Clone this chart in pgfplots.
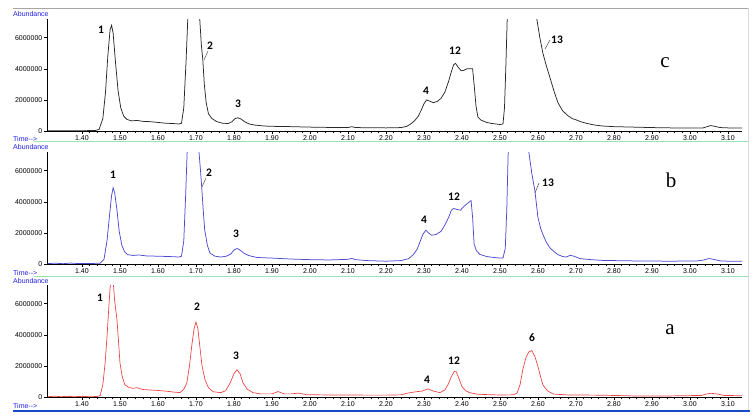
\documentclass[border=0pt]{standalone}
\usepackage{pgfplots}
\pgfplotsset{compat=1.18}
\usepackage{fontspec}
\setmainfont{Liberation Sans}
\newfontfamily\peakfont{Carlito}
\newfontfamily\letterfont{Liberation Serif}
\definecolor{trc}{RGB}{40,40,40}
\definecolor{trb}{RGB}{75,75,210}
\definecolor{tra}{RGB}{235,70,70}
\definecolor{hpblue}{RGB}{30,30,230}
\definecolor{sepgreen}{RGB}{150,228,180}
\definecolor{botblue}{RGB}{25,75,200}

\pgfplotstableread{
x y
1.310 0.02
1.350 0.02
1.400 0.02
1.435 0.03
1.445 0.1
1.455 0.8
1.462 2.5
1.468 4.8
1.474 6.5
1.478 6.8
1.482 6.3
1.488 4.5
1.495 2.6
1.502 1.5
1.510 0.95
1.518 0.75
1.530 0.65
1.545 0.68
1.560 0.62
1.580 0.60
1.600 0.55
1.620 0.50
1.640 0.48
1.655 0.45
1.662 0.5
1.668 1.5
1.674 4.5
1.679 7.5
1.685 14
1.695 16
1.705 10
1.710 7.2
1.714 5.6
1.718 4.6
1.722 3.0
1.727 1.8
1.733 1.1
1.742 0.8
1.755 0.6
1.770 0.5
1.785 0.48
1.795 0.6
1.803 0.8
1.810 0.85
1.818 0.78
1.828 0.6
1.840 0.45
1.855 0.38
1.880 0.32
1.900 0.3
1.950 0.28
2.000 0.25
2.050 0.23
2.100 0.22
2.110 0.28
2.120 0.22
2.200 0.2
2.240 0.22
2.255 0.3
2.265 0.45
2.275 0.65
2.285 0.95
2.293 1.35
2.300 1.75
2.307 2.0
2.315 1.92
2.325 1.82
2.335 1.9
2.345 2.1
2.355 2.5
2.365 3.2
2.372 3.8
2.378 4.25
2.383 4.35
2.390 4.1
2.398 3.87
2.405 3.9
2.413 4.0
2.428 4.0
2.432 3.0
2.437 1.6
2.442 0.9
2.450 0.7
2.465 0.55
2.480 0.48
2.500 0.42
2.508 0.45
2.512 1.5
2.516 4.5
2.520 8
2.540 18
2.560 20
2.590 9.0
2.597 7.2
2.605 6.0
2.613 5.0
2.622 4.2
2.632 3.4
2.643 2.5
2.653 1.8
2.665 1.3
2.678 1.0
2.690 0.8
2.700 0.72
2.712 0.6
2.730 0.48
2.750 0.38
2.770 0.32
2.800 0.28
2.850 0.25
2.900 0.22
2.950 0.2
3.000 0.2
3.035 0.2
3.045 0.28
3.055 0.35
3.065 0.3
3.080 0.22
3.100 0.2
3.140 0.2
}\tracec

\pgfplotstableread{
x y
1.310 0.03
1.330 0.05
1.350 0.02
1.370 0.06
1.390 0.03
1.420 0.03
1.448 0.05
1.458 0.3
1.466 1.5
1.472 3.0
1.478 4.4
1.482 4.9
1.486 4.6
1.492 3.5
1.498 2.1
1.505 1.2
1.512 0.8
1.520 0.6
1.535 0.55
1.550 0.58
1.570 0.52
1.600 0.5
1.630 0.48
1.655 0.45
1.662 0.5
1.668 1.5
1.673 4.5
1.678 8
1.690 14
1.700 12
1.708 7.2
1.712 6.0
1.715 5.0
1.719 3.5
1.723 2.2
1.730 1.2
1.737 0.7
1.750 0.5
1.765 0.45
1.780 0.5
1.792 0.65
1.800 0.9
1.808 1.0
1.816 0.9
1.826 0.7
1.838 0.55
1.860 0.42
1.900 0.38
1.950 0.32
2.000 0.28
2.050 0.26
2.100 0.3
2.110 0.36
2.120 0.28
2.150 0.22
2.200 0.18
2.240 0.22
2.260 0.35
2.272 0.6
2.282 0.95
2.290 1.45
2.297 1.9
2.305 2.17
2.312 2.0
2.320 1.85
2.332 1.9
2.345 2.1
2.355 2.5
2.365 3.0
2.372 3.45
2.378 3.57
2.388 3.5
2.396 3.46
2.405 3.7
2.415 3.9
2.424 4.08
2.428 3.0
2.432 1.3
2.438 0.85
2.447 0.62
2.465 0.48
2.490 0.4
2.508 0.38
2.514 1.0
2.518 3.5
2.522 7.5
2.540 18
2.560 14
2.576 7.2
2.584 5.8
2.592 4.7
2.600 3.0
2.607 2.3
2.613 1.9
2.622 1.4
2.632 1.03
2.643 0.78
2.653 0.6
2.665 0.48
2.675 0.45
2.685 0.56
2.695 0.5
2.710 0.35
2.740 0.28
2.770 0.23
2.850 0.2
2.950 0.18
3.020 0.2
3.035 0.25
3.050 0.35
3.062 0.3
3.080 0.2
3.100 0.18
3.140 0.18
}\traceb

\pgfplotstableread{
x y
1.310 0.02
1.330 0.05
1.345 0.02
1.360 0.04
1.380 0.02
1.400 0.04
1.420 0.02
1.440 0.03
1.448 0.1
1.455 0.8
1.461 2.2
1.466 3.9
1.470 5.5
1.474 7.0
1.478 7.8
1.482 7.5
1.486 6.2
1.492 5.0
1.497 3.3
1.500 2.2
1.506 1.3
1.513 0.78
1.525 0.6
1.535 0.56
1.545 0.6
1.560 0.48
1.580 0.45
1.600 0.42
1.620 0.38
1.640 0.32
1.658 0.28
1.668 0.5
1.676 0.9
1.683 2.0
1.689 3.3
1.695 4.4
1.700 4.82
1.705 4.4
1.710 3.3
1.716 2.0
1.724 1.1
1.733 0.6
1.745 0.34
1.765 0.28
1.778 0.4
1.790 0.9
1.800 1.5
1.808 1.75
1.816 1.5
1.824 0.9
1.835 0.5
1.850 0.28
1.870 0.2
1.900 0.2
1.916 0.35
1.932 0.2
1.950 0.2
1.970 0.25
1.990 0.15
2.050 0.13
2.100 0.13
2.150 0.12
2.200 0.12
2.240 0.14
2.255 0.24
2.280 0.34
2.295 0.38
2.310 0.52
2.325 0.38
2.342 0.28
2.355 0.45
2.363 0.78
2.372 1.3
2.380 1.65
2.385 1.62
2.392 1.2
2.400 0.67
2.410 0.4
2.420 0.28
2.440 0.18
2.470 0.15
2.500 0.13
2.535 0.14
2.545 0.25
2.553 0.8
2.560 1.75
2.568 2.5
2.576 2.9
2.584 2.98
2.592 2.6
2.600 1.97
2.607 1.3
2.613 0.78
2.625 0.4
2.640 0.19
2.680 0.13
2.750 0.12
2.800 0.1
2.850 0.07
2.950 0.07
3.030 0.1
3.045 0.2
3.055 0.24
3.070 0.2
3.090 0.1
3.140 0.08
}\tracea

\pgfplotsset{
  chrom/.style={
    width=695pt, height=112pt, scale only axis,
    xmin=1.308, xmax=3.137, ymin=0, ymax=7.2,
    axis x line*=bottom, axis y line*=left,
    axis line style={-, black, line width=0.6pt},
    xtick={1.4,1.5,1.6,1.7,1.8,1.9,2.0,2.1,2.2,2.3,2.4,2.5,2.6,2.7,2.8,2.9,3.0,3.1},
    minor x tick num=4,
    ytick={0,2,4,6},
    yticklabels={0,2000000,4000000,6000000},
    tick align=outside,
    major tick length=3pt, minor tick length=2pt,
    every tick/.style={black, line width=0.5pt},
    xticklabel style={/pgf/number format/fixed, /pgf/number format/precision=2, /pgf/number format/fixed zerofill, /pgf/number format/assume math mode=true, font=\fontsize{7}{8}\selectfont, inner sep=1pt, text=black},
    yticklabel style={font=\fontsize{7}{8}\selectfont, inner sep=1.5pt, text=black},
    clip=true,
  }
}

\newcommand{\pk}[3]{\node[font=\peakfont\bfseries\fontsize{11.5}{13}\selectfont, inner sep=0pt] at (#1,{418-#2}) {#3};}
\newcommand{\lbl}[3]{\node[anchor=west, font=\fontsize{7}{8}\selectfont, text=hpblue, inner sep=0pt] at (#1,{418-#2}) {#3};}

\begin{document}
\begin{tikzpicture}[x=1pt,y=1pt]
\useasboundingbox (0,0) rectangle (755,418);

% panel c
\begin{axis}[chrom, at={(47pt,287pt)}, anchor=south west]
\addplot[trc, line width=0.75pt] table[x=x,y=y] {\tracec};
\end{axis}
% panel b
\begin{axis}[chrom, at={(47pt,154pt)}, anchor=south west]
\addplot[trb, line width=0.75pt] table[x=x,y=y] {\traceb};
\end{axis}
% panel a
\begin{axis}[chrom, at={(47pt,21pt)}, anchor=south west]
\addplot[tra, line width=0.7pt] table[x=x,y=y] {\tracea};
\end{axis}

% frame lines
\draw[gray!70, line width=0.8pt] (13,{418-8}) -- (748,{418-8});
\draw[gray!30, line width=0.6pt] (748,{418-8}) -- (748,{418-412});
\draw[sepgreen, line width=1.2pt] (34,{418-141.5}) -- (748,{418-141.5});
\draw[sepgreen, line width=1.2pt] (34,{418-276.5}) -- (748,{418-276.5});
\draw[botblue, line width=2.2pt] (13,{418-411}) -- (750,{418-411});

% Abundance / Time labels
\lbl{13}{14}{Abundance}
\lbl{13}{139}{Time-{}->}
\lbl{13}{147}{Abundance}
\lbl{13}{273}{Time-{}->}
\lbl{13}{281}{Abundance}
\lbl{13}{406}{Time-{}->}

% peak labels panel c
\pk{101}{30}{1}
\pk{210}{46}{2}
\draw[black!70, line width=0.5pt] (204,{418-60}) -- (208,{418-51});
\pk{238}{104}{3}
\pk{426}{91}{4}
\pk{455}{51}{12}
\pk{557}{40}{13}
\draw[black!70, line width=0.5pt] (545,{418-49}) -- (550,{418-40});
\node[font=\letterfont\fontsize{21}{23}\selectfont, inner sep=0pt] at (665,{418-63}) {c};

% panel b
\pk{113}{175}{1}
\pk{209}{173}{2}
\draw[black!70, line width=0.5pt] (202,{418-187}) -- (206,{418-178});
\pk{236}{234}{3}
\pk{424}{220}{4}
\pk{454}{197}{12}
\pk{548}{183}{13}
\draw[black!70, line width=0.5pt] (535,{418-193}) -- (539,{418-183});
\node[font=\letterfont\fontsize{21}{23}\selectfont, inner sep=0pt] at (671,{418-180}) {b};

% panel a
\pk{100}{298}{1}
\pk{197}{307}{2}
\pk{236}{356}{3}
\pk{427}{380}{4}
\pk{454}{361}{12}
\pk{532}{338}{6}
\node[font=\letterfont\fontsize{21}{23}\selectfont, inner sep=0pt] at (670,{418-330}) {a};
\end{tikzpicture}
\end{document}
